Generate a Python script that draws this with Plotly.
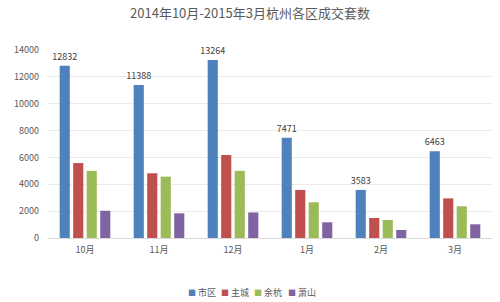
import plotly.graph_objects as go

months = ["10月", "11月", "12月", "1月", "2月", "3月"]
series_names = ["市区", "主城", "余杭", "萧山"]
shiqu = [12832, 11388, 13264, 7471, 3583, 6463]
zhucheng = [5580, 4820, 6180, 3580, 1490, 2950]
yuhang = [5000, 4570, 5000, 2660, 1340, 2360]
xiaoshan = [2030, 1840, 1900, 1170, 600, 1020]
colors = ["#4F81BD", "#C0504D", "#9BBB59", "#8064A2"]

font_family = "Noto Sans CJK SC, Noto Sans, sans-serif"

fig = go.Figure()
for name, vals, col in zip(series_names, [shiqu, zhucheng, yuhang, xiaoshan], colors):
    fig.add_trace(go.Bar(
        x=months, y=vals, name=name, marker=dict(color=col, line=dict(width=0)),
        text=[str(v) for v in vals] if name == "市区" else None,
        textposition="outside" if name == "市区" else None,
        constraintext="none",
        textfont=dict(size=9, color="#404040", family=font_family),
        cliponaxis=False,
    ))

# compact legend drawn as annotations (small squares + labels)
legend_x0 = 0.31
legend_step = 0.075
for i, (name, col) in enumerate(zip(series_names, colors)):
    fig.add_annotation(
        xref="paper", yref="paper", x=legend_x0 + i * legend_step, y=-0.29,
        xanchor="left", yanchor="middle", showarrow=False,
        text=f"<span style='color:{col};font-size:8px'>■</span> {name}",
        font=dict(size=9, color="#595959", family=font_family),
    )

fig.update_layout(
    width=500, height=302,
    margin=dict(l=48, r=8, t=50, b=64),
    paper_bgcolor="white", plot_bgcolor="white",
    barmode="group", bargap=0.27, bargroupgap=0.25,
    title=dict(text="2014年10月-2015年3月杭州各区成交套数", x=0.5, xanchor="center",
               y=0.955, yanchor="middle",
               font=dict(size=13, color="#595959", family=font_family)),
    font=dict(family=font_family, size=9, color="#595959"),
    xaxis=dict(showline=True, linecolor="#D9D9D9", linewidth=1, ticks="",
               ticklabelstandoff=3, tickfont=dict(size=9, color="#595959")),
    yaxis=dict(range=[0, 14000], dtick=2000, tickformat="d", showgrid=True,
               gridcolor="#EBEBEB", zeroline=False, showline=False, ticks="",
               ticklabelstandoff=8, tickfont=dict(size=9, color="#595959")),
    showlegend=False,
)

fig.write_html("out.html")
